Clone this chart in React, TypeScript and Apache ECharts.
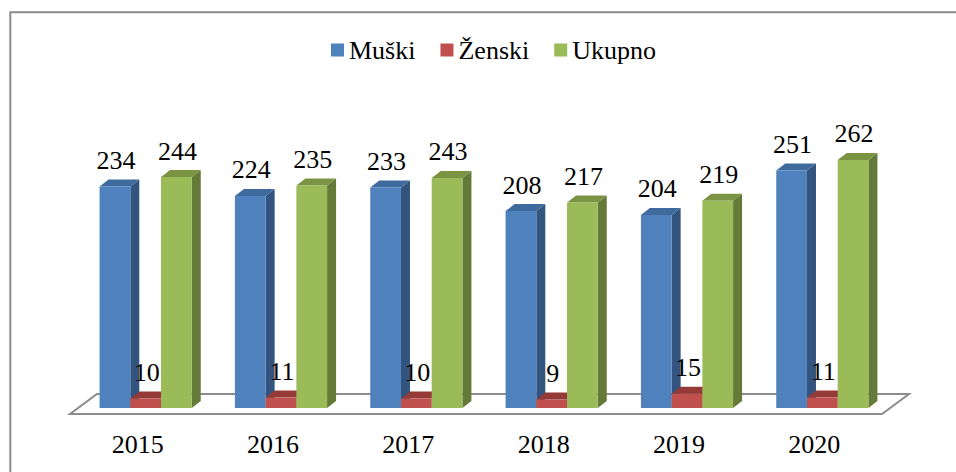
import React, { useEffect, useRef } from "react";
import * as echarts from "echarts";

const categories = ["2015", "2016", "2017", "2018", "2019", "2020"];
const seriesNames = ["Muški", "Ženski", "Ukupno"];
const muski = [234, 224, 233, 208, 204, 251];
const zenski = [10, 11, 10, 9, 15, 11];
const ukupno = [244, 235, 243, 217, 219, 262];

const FONT = "Liberation Serif";
const DX = 9;
const DY = -7;
const BAR_RATIO = 0.227;

const palettes = [
  { front: "#4F81BD", top: "#3F6A9E", side: "#32547F" },
  { front: "#C0504D", top: "#963A37", side: "#7F302D" },
  { front: "#9BBB59", top: "#7A9444", side: "#657A38" },
];

function makeBarRender(sIdx: number) {
  const pal = palettes[sIdx];
  return (params: any, api: any) => {
    const ci = api.value(0);
    const v = api.value(1);
    const base = api.coord([ci, 0]);
    const tp = api.coord([ci, v]);
    const band = api.size([1, 0])[0];
    const w = band * BAR_RATIO;
    const x = base[0] - 1.5 * w + sIdx * w;
    const yb = base[1];
    const yt = tp[1];
    return {
      type: "group",
      children: [
        {
          type: "polygon",
          shape: { points: [[x + w, yt], [x + w + DX, yt + DY], [x + w + DX, yb + DY], [x + w, yb]] },
          style: { fill: pal.side },
        },
        {
          type: "polygon",
          shape: { points: [[x, yt], [x + DX, yt + DY], [x + w + DX, yt + DY], [x + w, yt]] },
          style: { fill: pal.top },
        },
        {
          type: "rect",
          shape: { x: x, y: yt, width: w, height: yb - yt },
          style: { fill: pal.front },
        },
        {
          type: "text",
          x: x + w / 2 + 1,
          y: yt - 26,
          style: {
            text: String(v),
            fill: "#000",
            fontSize: 26,
            fontFamily: FONT,
            align: "center",
            verticalAlign: "middle",
          },
        },
      ],
    };
  };
}

function floorRender(params: any, api: any) {
  const c0 = api.coord([0, 0]);
  const cN = api.coord([categories.length - 1, 0]);
  const band = api.size([1, 0])[0];
  const l = c0[0] - band / 2;
  const r = cN[0] + band / 2;
  const y = c0[1];
  return {
    type: "polygon",
    shape: {
      points: [
        [l - 8, y + 6],
        [r - 8, y + 6],
        [r + 19, y - 14],
        [l + 19, y - 14],
      ],
    },
    style: { fill: "#ffffff", stroke: "#8c8c8c", lineWidth: 2 },
  };
}

export default function App() {
  const ref = useRef<HTMLDivElement>(null);
  useEffect(() => {
    if (!ref.current) return;
    const chart = echarts.init(ref.current, null, { renderer: "svg" });
    const values = [muski, zenski, ukupno];
    chart.setOption({
      animation: false,
      backgroundColor: "#ffffff",
      textStyle: { fontFamily: FONT },
      graphic: [
        {
          type: "rect",
          shape: { x: 10.3, y: 12.3, width: 980, height: 500 },
          style: { fill: "none", stroke: "#8c8c8c", lineWidth: 2 },
          silent: true,
        },
      ],
      legend: {
        data: seriesNames,
        left: 331,
        top: 37,
        padding: 0,
        itemWidth: 13,
        itemHeight: 13,
        itemGap: 25,
        icon: "rect",
        textStyle: { fontSize: 26, fontFamily: FONT, color: "#000" },
      },
      grid: { left: 78, right: 66, top: 124, bottom: 64 },
      xAxis: {
        type: "category",
        data: categories,
        axisLine: { show: false },
        axisTick: { show: false },
        splitLine: { show: false },
        axisLabel: {
          interval: 0,
          margin: 23,
          fontSize: 26,
          fontFamily: FONT,
          color: "#000",
          padding: [0, 16, 0, 0],
        },
      },
      yAxis: { type: "value", min: 0, max: 300, show: false },
      series: [
        {
          type: "custom",
          name: "floor",
          silent: true,
          data: [[0, 0]],
          renderItem: floorRender,
          z: 1,
        },
        ...seriesNames.map((name, sIdx) => ({
          type: "custom",
          name,
          silent: true,
          itemStyle: { color: palettes[sIdx].front },
          data: values[sIdx].map((v, i) => [i, v]),
          renderItem: makeBarRender(sIdx),
          z: 2 + sIdx,
        })),
      ],
    });
    return () => chart.dispose();
  }, []);
  return (
    <div
      ref={ref}
      style={{ position: "absolute", left: 0, top: 0, width: 956, height: 472, background: "#fff" }}
    />
  );
}
